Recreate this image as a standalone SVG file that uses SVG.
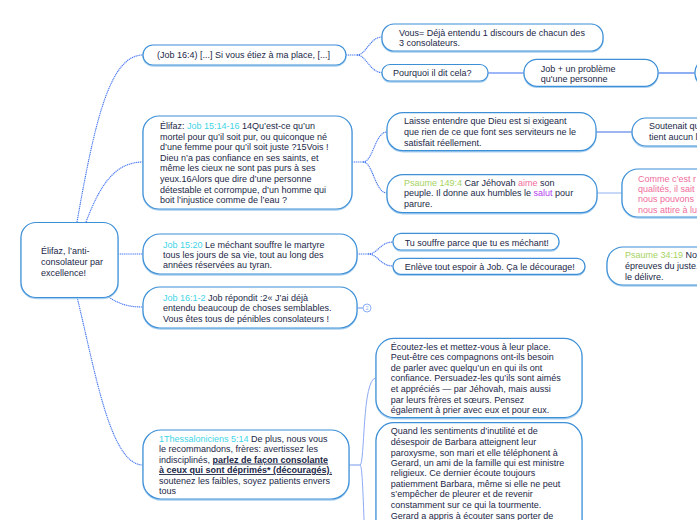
<svg xmlns="http://www.w3.org/2000/svg" width="697" height="520" viewBox="0 0 697 520">
<defs>
<style>
.box{fill:#ffffff;stroke:#3d8fd6;stroke-width:1.2}
.sh{fill:none;stroke:#a9d0f1;stroke-width:1.4}
text{font-family:"Liberation Sans",Arial,sans-serif;font-size:9px;fill:#1b2747}
.cy{fill:#3fd4e6}
.gr{fill:#a6d35f}
.pk{fill:#f06c9c}
.pu{fill:#b43ef0}
.b{font-weight:bold;text-decoration:underline}
.dot{fill:none;stroke:#3f70f2;stroke-width:1.1;stroke-dasharray:1.2 0.7}
.ln{fill:none;stroke-width:1.2}
</style>
</defs>
<rect width="697" height="520" fill="#ffffff"/>

<g id="connectors">
<path class="dot" d="M77,222 C95,120 110,55 143,55"/>
<path class="dot" d="M86,222 C100,185 115,162 143,162"/>
<path class="dot" d="M118,254 L143,254"/>
<path class="dot" d="M107,296 C120,305 130,307 143,307"/>
<path class="dot" d="M77,297 C95,370 110,465 143,465"/>
<path class="dot" d="M346,55 L357,55"/>
<path class="dot" d="M357,55 C366,55 370,37 382,37"/>
<path class="dot" d="M357,55 C366,55 370,72.5 382,72.5"/>
<path class="dot" d="M352,162 L363,162"/>
<path class="dot" d="M363,162 C373,162 375,132 387,132"/>
<path class="dot" d="M363,162 C373,162 375,193 387,193"/>
<path class="dot" d="M357,254 L368,254"/>
<path class="dot" d="M368,254 C378,254 380,242 393,242"/>
<path class="dot" d="M368,254 C378,254 380,266 393,266"/>
<path class="ln" stroke="#7fa4f2" d="M357,308 L363,308"/>
<path class="ln" stroke="#3a6ff0" d="M488,73 L524,73"/>
<path class="ln" stroke="#1f5fe8" d="M658,73 L695,73"/>
<path class="ln" stroke="#3d6fe6" d="M596,132 L632,132"/>
<path class="ln" stroke="#a3c0f2" d="M597,193 L622,193"/>
<path class="ln" stroke="#8eaaf2" d="M349,465 L360,465"/>
<path fill="none" stroke="#8eaaf2" stroke-width="1" d="M360,465 C365,465 362,378 376,378"/>
<path fill="none" stroke="#8eaaf2" stroke-width="1" d="M360,465 C365,465 362,600 376,600"/>
</g>

<g id="root">
<rect class="sh" x="21" y="223.5" width="97" height="75" rx="15"/>
<rect class="box" x="21" y="222.5" width="97" height="75" rx="15"/>
<text x="41" y="254">Élifaz, l’anti-</text>
<text x="41" y="264.8">consolateur par</text>
<text x="41" y="275.5">excellence!</text>
</g>

<g id="n-job16-4">
<rect class="sh" x="143" y="46" width="203" height="20" rx="10"/>
<rect class="box" x="143" y="45" width="203" height="20" rx="10"/>
<text x="157" y="58.3">(Job 16:4) [...] Si vous étiez à ma place, [...]</text>
</g>

<g id="n-vous">
<rect class="sh" x="382" y="25" width="221" height="27" rx="12"/>
<rect class="box" x="382" y="24" width="221" height="27" rx="12"/>
<text x="399" y="35.6">Vous= Déjà entendu 1 discours de chacun des</text>
<text x="399" y="46">3 consolateurs.</text>
</g>

<g id="n-pourquoi">
<rect class="sh" x="382" y="65.5" width="106" height="16.5" rx="8"/>
<rect class="box" x="382" y="64.5" width="106" height="16.5" rx="8"/>
<text x="393" y="76">Pourquoi il dit cela?</text>
</g>

<g id="n-jobplus">
<rect class="sh" x="524" y="60.3" width="134" height="27" rx="13"/>
<rect class="box" x="524" y="59.3" width="134" height="27" rx="13"/>
<text x="540.7" y="71.6">Job + un problème</text>
<text x="540.7" y="81.6">qu'une personne</text>
</g>

<g id="n-right-edge">
<rect class="sh" x="695" y="60.3" width="80" height="27" rx="13"/>
<rect class="box" x="695" y="59.3" width="80" height="27" rx="13"/>
</g>

<g id="n-elifaz-job15">
<rect class="sh" x="143" y="117" width="209" height="93" rx="16"/>
<rect class="box" x="143" y="116" width="209" height="93" rx="16"/>
<text x="160" y="129">Élifaz: <tspan class="cy">Job 15:14-16</tspan> 14Qu’est-ce qu’un</text>
<text x="160" y="139.6">mortel pour qu’il soit pur, ou quiconque né</text>
<text x="160" y="150.2">d’une femme pour qu’il soit juste ?15Vois !</text>
<text x="160" y="160.8">Dieu n’a pas confiance en ses saints, et</text>
<text x="160" y="171.4">même les cieux ne sont pas purs à ses</text>
<text x="160" y="182">yeux.16Alors que dire d’une personne</text>
<text x="160" y="192.6">détestable et corrompue, d’un homme qui</text>
<text x="160" y="203.2">boit l’injustice comme de l’eau ?</text>
</g>

<g id="n-laisse">
<rect class="sh" x="387" y="113.7" width="209" height="38" rx="16"/>
<rect class="box" x="387" y="112.7" width="209" height="38" rx="16"/>
<text x="404" y="124.3">Laisse entendre que Dieu est si exigeant</text>
<text x="404" y="134.9">que rien de ce que font ses serviteurs ne le</text>
<text x="404" y="145.5">satisfait réellement.</text>
</g>

<g id="n-soutenait">
<rect class="sh" x="632" y="119" width="120" height="28" rx="14"/>
<rect class="box" x="632" y="118" width="120" height="28" rx="14"/>
<text x="649" y="129.3">Soutenait qu</text>
<text x="649" y="140">tient aucun l</text>
</g>

<g id="n-psaume149">
<rect class="sh" x="387" y="175.7" width="210" height="38" rx="16"/>
<rect class="box" x="387" y="174.7" width="210" height="38" rx="16"/>
<text x="404" y="185.8"><tspan class="gr">Psaume 149:4</tspan> Car Jéhovah <tspan class="pk">aime</tspan> son</text>
<text x="404" y="196.4">peuple. Il donne aux humbles le <tspan class="pu">salut</tspan> pour</text>
<text x="404" y="207">parure.</text>
</g>

<g id="n-comme">
<rect class="sh" x="622" y="170" width="120" height="48" rx="16"/>
<rect class="box" x="622" y="169" width="120" height="48" rx="16"/>
<text class="pk" x="638" y="181.6">Comme c’est r</text>
<text class="pk" x="638" y="191.9">qualités, il sait</text>
<text class="pk" x="638" y="202.2">nous pouvons</text>
<text class="pk" x="638" y="212.5">nous attire à lu</text>
</g>

<g id="n-job15-20">
<rect class="sh" x="143" y="235" width="214" height="40" rx="17"/>
<rect class="box" x="143" y="234" width="214" height="40" rx="17"/>
<text x="163" y="247.6"><tspan class="cy">Job 15:20</tspan> Le méchant souffre le martyre</text>
<text x="163" y="258">tous les jours de sa vie, tout au long des</text>
<text x="163" y="268.3">années réservées au tyran.</text>
</g>

<g id="n-tu-souffre">
<rect class="sh" x="393" y="234.3" width="166" height="16.7" rx="8"/>
<rect class="box" x="393" y="233.3" width="166" height="16.7" rx="8"/>
<text x="404.7" y="245.6">Tu souffre parce que tu es méchant!</text>
</g>

<g id="n-enleve">
<rect class="sh" x="393" y="259.3" width="192" height="16" rx="8"/>
<rect class="box" x="393" y="258.3" width="192" height="16" rx="8"/>
<text x="404.7" y="270">Enlève tout espoir à Job. Ça le décourage!</text>
</g>

<g id="n-psaume34">
<rect class="sh" x="607" y="248" width="130" height="38" rx="16"/>
<rect class="box" x="607" y="247" width="130" height="38" rx="16"/>
<text x="625" y="257.6"><tspan class="gr">Psaume 34:19</tspan> No</text>
<text x="625" y="268.9">épreuves du juste.</text>
<text x="625" y="280">le délivre.</text>
</g>

<g id="n-job16-1">
<rect class="sh" x="143" y="288" width="214" height="41" rx="17"/>
<rect class="box" x="143" y="287" width="214" height="41" rx="17"/>
<text x="163" y="300.6"><tspan class="cy">Job 16:1-2</tspan> Job répondit :2« J’ai déjà</text>
<text x="163" y="311.3">entendu beaucoup de choses semblables.</text>
<text x="163" y="322">Vous êtes tous de pénibles consolateurs !</text>
</g>

<g id="badge">
<circle cx="367" cy="308" r="4" fill="#ffffff" stroke="#8fb0f2" stroke-width="1"/>
<text x="367" y="310.2" text-anchor="middle" style="font-size:5.5px;fill:#8fb0f2">2</text>
</g>

<g id="n-thess">
<rect class="sh" x="143" y="431" width="206" height="69" rx="18"/>
<rect class="box" x="143" y="430" width="206" height="69" rx="18"/>
<text x="159" y="441.6"><tspan class="cy">1Thessaloniciens 5:14</tspan> De plus, nous vous</text>
<text x="159" y="452">le recommandons, frères: avertissez les</text>
<text x="159" y="462.6">indisciplinés, <tspan class="b">parlez de façon consolante </tspan></text>
<text x="159" y="473"><tspan class="b">à ceux qui sont déprimés* (découragés)</tspan><tspan style="text-decoration:underline">, </tspan></text>
<text x="159" y="484">soutenez les faibles, soyez patients envers</text>
<text x="159" y="494.3">tous</text>
</g>

<g id="n-ecoutez">
<rect class="sh" x="376" y="339.3" width="206" height="79.4" rx="18"/>
<rect class="box" x="376" y="338.3" width="206" height="79.4" rx="18"/>
<text x="390.7" y="349.6">Écoutez-les et mettez-vous à leur place.</text>
<text x="390.7" y="360">Peut-être ces compagnons ont-ils besoin</text>
<text x="390.7" y="370.6">de parler avec quelqu’un en qui ils ont</text>
<text x="390.7" y="381">confiance. Persuadez-les qu’ils sont aimés</text>
<text x="390.7" y="392.3">et appréciés — par Jéhovah, mais aussi</text>
<text x="390.7" y="402.6">par leurs frères et sœurs. Pensez</text>
<text x="390.7" y="413.3">également à prier avec eux et pour eux.</text>
</g>

<g id="n-quand">
<rect class="sh" x="376" y="423.7" width="206" height="160" rx="18"/>
<rect class="box" x="376" y="422.7" width="206" height="160" rx="18"/>
<text x="390.7" y="433.6">Quand les sentiments d’inutilité et de</text>
<text x="390.7" y="444.6">désespoir de Barbara atteignent leur</text>
<text x="390.7" y="455.6">paroxysme, son mari et elle téléphonent à</text>
<text x="390.7" y="466">Gerard, un ami de la famille qui est ministre</text>
<text x="390.7" y="476">religieux. Ce dernier écoute toujours</text>
<text x="390.7" y="487">patiemment Barbara, même si elle ne peut</text>
<text x="390.7" y="497.3">s’empêcher de pleurer et de revenir</text>
<text x="390.7" y="508">constamment sur ce qui la tourmente.</text>
<text x="390.7" y="518.6">Gerard a appris à écouter sans porter de</text>
</g>
</svg>
